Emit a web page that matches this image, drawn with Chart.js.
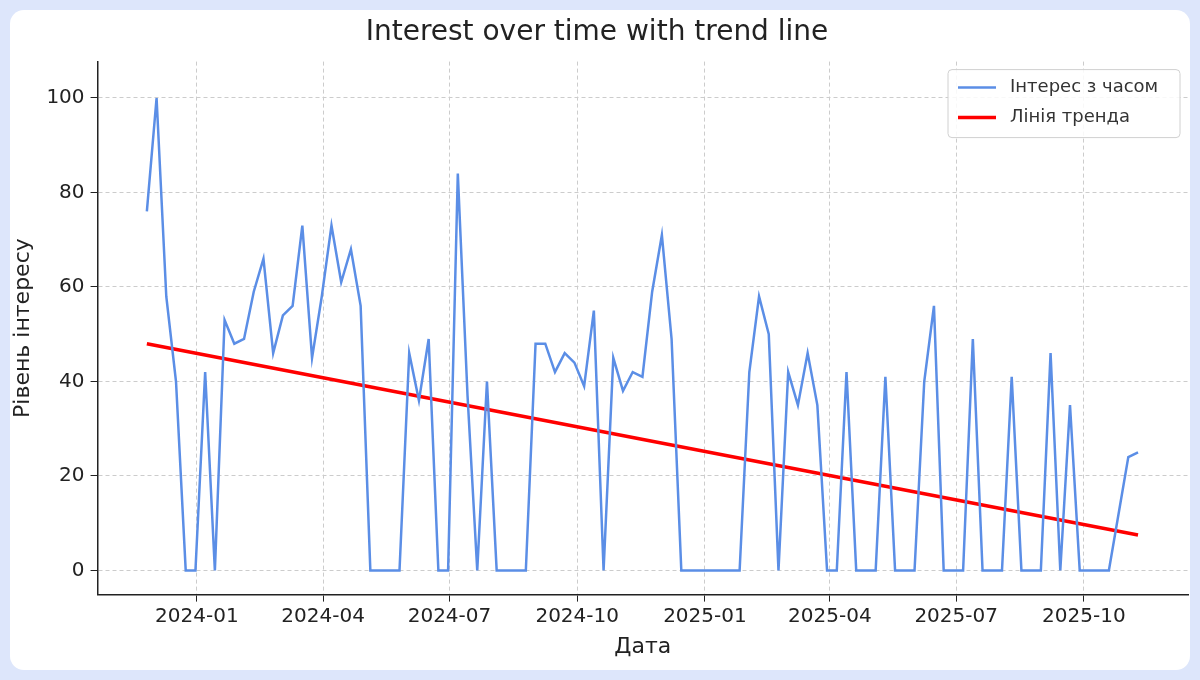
<!DOCTYPE html>
<html>
<head>
<meta charset="utf-8">
<script src="https://cdn.jsdelivr.net/npm/chart.js@4"></script>
<style>
  html, body { margin: 0; padding: 0; background: #dde6fb; }
  #card { position: absolute; left: 10px; top: 10px; width: 1180px; height: 660px; background: #fff; border-radius: 14px; }
  #wrap { position: absolute; left: 0; top: 0; width: 1200px; height: 680px; }
</style>
</head>
<body>
<div id="card"></div>
<div id="wrap"><canvas id="chart" width="1200" height="680"></canvas></div>
<script>
var DAY = 86400000;
var startDate = Date.UTC(2023, 10, 26); // first weekly point
var interest = [
  76, 100, 58, 40, 0, 0, 42, 0, 53, 48, 49, 59, 66, 46, 54, 56, 73, 45, 58, 73,
  61, 68, 56, 0, 0, 0, 0, 46, 36, 49, 0, 0, 84, 37, 0, 40, 0, 0, 0, 0,
  48, 48, 42, 46, 44, 39, 55, 0, 45, 38, 42, 41, 59, 71, 49, 0, 0, 0, 0, 0,
  0, 0, 42, 58, 50, 0, 42, 35, 46, 35, 0, 0, 42, 0, 0, 0, 41, 0, 0, 0,
  40, 56, 0, 0, 0, 49, 0, 0, 0, 41, 0, 0, 0, 46, 0, 35, 0, 0, 0, 0,
  12, 24, 25
];
var trendEnds = [48, 7.5];
var tickMonths = [[2024,0],[2024,3],[2024,6],[2024,9],[2025,0],[2025,3],[2025,6],[2025,9]];
var tickLabels = ['2024-01','2024-04','2024-07','2024-10','2025-01','2025-04','2025-07','2025-10'];

var tickValues = tickMonths.map(function(m) { return Date.UTC(m[0], m[1], 1) / DAY; });
var points = interest.map(function(v, i) { return { x: startDate / DAY + 7 * i, y: v }; });
var trend = [
  { x: points[0].x, y: trendEnds[0] },
  { x: points[points.length - 1].x, y: trendEnds[1] }
];

var boxLegend = {
  id: 'boxLegend',
  afterDraw: function(chart) {
    var c = chart.ctx, a = chart.chartArea;
    var w = 232, h = 68, x = a.right - w - 8, y = a.top + 8;
    c.save();
    c.fillStyle = 'rgba(255,255,255,0.85)';
    c.strokeStyle = '#d0d0d0';
    c.lineWidth = 1;
    c.beginPath();
    c.roundRect(x, y, w, h, 4);
    c.fill(); c.stroke();
    c.font = '18px "DejaVu Sans"';
    c.textBaseline = 'middle';
    chart.data.datasets.forEach(function(ds, i) {
      var ly = y + 18 + i * 30;
      c.strokeStyle = ds.borderColor;
      c.lineWidth = ds.borderWidth;
      c.beginPath(); c.moveTo(x + 10, ly); c.lineTo(x + 48, ly); c.stroke();
      c.fillStyle = '#333';
      c.fillText(ds.label, x + 62, ly);
    });
    c.restore();
  }
};

new Chart(document.getElementById('chart'), {
  type: 'line',
  data: {
    datasets: [{
      label: 'Інтерес з часом',
      data: points,
      borderColor: '#5b8ee6',
      borderWidth: 2.5,
      pointRadius: 0,
      tension: 0
    }, {
      label: 'Лінія тренда',
      data: trend,
      borderColor: '#ff0000',
      borderWidth: 3.5,
      pointRadius: 0
    }]
  },
  plugins: [boxLegend],
  options: {
    responsive: false,
    animation: false,
    devicePixelRatio: 1,
    layout: { padding: { left: 6, right: 12, top: 8, bottom: 16 } },
    plugins: {
      legend: { display: false },
      tooltip: { enabled: false },
      title: {
        display: true,
        text: 'Interest over time with trend line',
        color: '#222',
        font: { family: 'DejaVu Sans', size: 28, weight: 'normal' },
        padding: { top: 8, bottom: 12 }
      }
    },
    scales: {
      x: {
        type: 'linear',
        min: tickValues[0] - 71.5,
        max: tickValues[7] + 75,
        afterBuildTicks: function(axis) {
          axis.ticks = tickValues.map(function(v) { return { value: v }; });
        },
        ticks: {
          color: '#222',
          font: { family: 'DejaVu Sans', size: 20 },
          maxRotation: 0,
          autoSkip: false,
          callback: function(v) {
            var i = tickValues.indexOf(v);
            return i < 0 ? '' : tickLabels[i];
          }
        },
        grid: { color: '#cccccc', tickColor: '#222', tickLength: 7 },
        border: { color: '#222', width: 1.5, dash: [4, 3] },
        title: { display: true, text: 'Дата', color: '#222', font: { family: 'DejaVu Sans', size: 22 }, padding: { top: 2 } }
      },
      y: {
        min: -5.1,
        max: 107.7,
        afterBuildTicks: function(axis) {
          axis.ticks = [0, 20, 40, 60, 80, 100].map(function(v) { return { value: v }; });
        },
        ticks: { color: '#222', font: { family: 'DejaVu Sans', size: 20 }, padding: 6 },
        grid: { color: '#cccccc', tickColor: '#222', tickLength: 7 },
        border: { color: '#222', width: 1.5, dash: [4, 3] },
        title: { display: true, text: 'Рівень інтересу', color: '#222', font: { family: 'DejaVu Sans', size: 22 } }
      }
    }
  }
});
</script>
</body>
</html>
